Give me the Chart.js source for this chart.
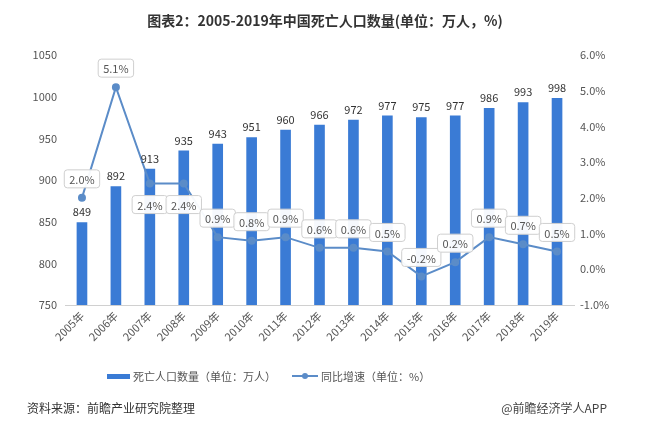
<!DOCTYPE html>
<html>
<head>
<meta charset="utf-8">
<script src="https://cdn.jsdelivr.net/npm/chart.js@4/dist/chart.umd.min.js"></script>
<style>
  html, body { margin:0; padding:0; background:#fff; }
  body { width:650px; height:431px; position:relative; overflow:hidden; font-family:"Noto Sans CJK SC","Noto Sans",sans-serif; }
  #wrap { position:absolute; left:0; top:0; width:650px; height:431px; }
  .title { position:absolute; left:0; width:650px; top:10px; text-align:center; font-size:14px; font-weight:bold; color:#333; }
  .legend { position:absolute; top:368px; left:0; width:650px; font-size:11px; color:#555; }
  .legend .item { position:absolute; top:0; display:flex; align-items:center; height:16px; }
  .sw-bar { width:23px; height:5px; background:#3a7bd5; margin-right:3px; }
  .sw-line { position:relative; width:26px; height:2px; background:#5b8cc8; margin-right:3px; }
  .sw-line:after { content:""; position:absolute; left:10px; top:-2px; width:6px; height:6px; border-radius:50%; background:#5b8cc8; }
  .src { position:absolute; top:399px; left:27px; font-size:12px; color:#333; }
  .app { position:absolute; top:399px; right:43px; font-size:12px; color:#444; }
</style>
</head>
<body>
<div id="wrap"><canvas id="c" width="650" height="431"></canvas></div>
<div class="title">图表2：2005-2019年中国死亡人口数量(单位：万人，%)</div>
<div class="legend">
  <div class="item" style="left:107px"><div class="sw-bar"></div>死亡人口数量（单位：万人）</div>
  <div class="item" style="left:292px"><div class="sw-line"></div>同比增速（单位：%）</div>
</div>
<div class="src">资料来源：前瞻产业研究院整理</div>
<div class="app">@前瞻经济学人APP</div>
<script>
const categories = ["2005年","2006年","2007年","2008年","2009年","2010年","2011年","2012年","2013年","2014年","2015年","2016年","2017年","2018年","2019年"];
const deaths = [849, 892, 913, 935, 943, 951, 960, 966, 972, 977, 975, 977, 986, 993, 998];
const growth = [2.0, 5.1, 2.4, 2.4, 0.9, 0.8, 0.9, 0.6, 0.6, 0.5, -0.2, 0.2, 0.9, 0.7, 0.5];
const growthLabelBelow = [false, false, true, true, false, false, false, false, false, false, false, false, false, false, false];
const leftTicks = [750, 800, 850, 900, 950, 1000, 1050];
const rightTicks = [-1, 0, 1, 2, 3, 4, 5, 6];

const FONT = '"Noto Sans CJK SC","Noto Sans",sans-serif';

const labelPlugin = {
  id: 'labels',
  afterDatasetsDraw(chart) {
    const ctx = chart.ctx;
    ctx.save();
    const barMeta = chart.getDatasetMeta(0);
    ctx.font = '11px ' + FONT;
    ctx.fillStyle = '#333';
    ctx.textAlign = 'center';
    ctx.textBaseline = 'bottom';
    barMeta.data.forEach((el, i) => {
      ctx.fillText(String(deaths[i]), el.x, el.y - 5);
    });
    const lineMeta = chart.getDatasetMeta(1);
    lineMeta.data.forEach((el, i) => {
      const txt = growth[i].toFixed(1) + '%';
      ctx.font = '11px ' + FONT;
      const w = ctx.measureText(txt).width + 10;
      const h = 18;
      const cy = growthLabelBelow[i] ? el.y + 21 : el.y - 19;
      const x0 = el.x - w / 2, y0 = cy - h / 2;
      ctx.beginPath();
      const r = 3;
      ctx.moveTo(x0 + r, y0);
      ctx.lineTo(x0 + w - r, y0);
      ctx.quadraticCurveTo(x0 + w, y0, x0 + w, y0 + r);
      ctx.lineTo(x0 + w, y0 + h - r);
      ctx.quadraticCurveTo(x0 + w, y0 + h, x0 + w - r, y0 + h);
      ctx.lineTo(x0 + r, y0 + h);
      ctx.quadraticCurveTo(x0, y0 + h, x0, y0 + h - r);
      ctx.lineTo(x0, y0 + r);
      ctx.quadraticCurveTo(x0, y0, x0 + r, y0);
      ctx.closePath();
      ctx.fillStyle = 'rgba(255,255,255,0.95)';
      ctx.fill();
      ctx.strokeStyle = '#cfcfcf';
      ctx.lineWidth = 1;
      ctx.stroke();
      ctx.fillStyle = '#555';
      ctx.textAlign = 'center';
      ctx.textBaseline = 'middle';
      ctx.fillText(txt, el.x, cy + 1);
    });
    ctx.restore();
  }
};

new Chart(document.getElementById('c'), {
  data: {
    labels: categories,
    datasets: [
      {
        type: 'bar',
        label: '死亡人口数量（单位：万人）',
        data: deaths,
        backgroundColor: '#3a7bd5',
        yAxisID: 'y',
        barThickness: 10,
        order: 2
      },
      {
        type: 'line',
        label: '同比增速（单位：%）',
        data: growth,
        borderColor: '#5b8cc8',
        backgroundColor: '#5b8cc8',
        borderWidth: 2,
        pointRadius: 3,
        pointBackgroundColor: '#5b8cc8',
        tension: 0,
        yAxisID: 'y1',
        order: 1
      }
    ]
  },
  options: {
    responsive: false,
    animation: false,
    layout: { padding: { top: 55, bottom: 0, left: 0, right: 0 } },
    plugins: { legend: { display: false }, tooltip: { enabled: false } },
    scales: {
      x: {
        offset: true,
        grid: { display: false, drawTicks: false },
        border: { display: true, color: '#d0d0d0' },
        ticks: { color: '#555', font: { size: 11, family: FONT }, minRotation: 45, maxRotation: 45, padding: 4 },
        afterFit(s) { s.height = 126; }
      },
      y: {
        position: 'left',
        min: 750, max: 1050,
        afterBuildTicks(s) { s.ticks = leftTicks.map(v => ({ value: v })); },
        grid: { display: false, drawTicks: false },
        border: { display: false },
        ticks: { color: '#555', font: { size: 11, family: FONT }, padding: 8, callback: v => String(v) },
        afterFit(s) { s.width = 65; }
      },
      y1: {
        position: 'right',
        min: -1, max: 6,
        afterBuildTicks(s) { s.ticks = rightTicks.map(v => ({ value: v })); },
        grid: { display: false, drawTicks: false },
        border: { display: false },
        ticks: { color: '#555', font: { size: 11, family: FONT }, padding: 6, callback: v => Number(v).toFixed(1) + '%' },
        afterFit(s) { s.width = 76; }
      }
    }
  },
  plugins: [labelPlugin]
});
</script>
</body>
</html>
